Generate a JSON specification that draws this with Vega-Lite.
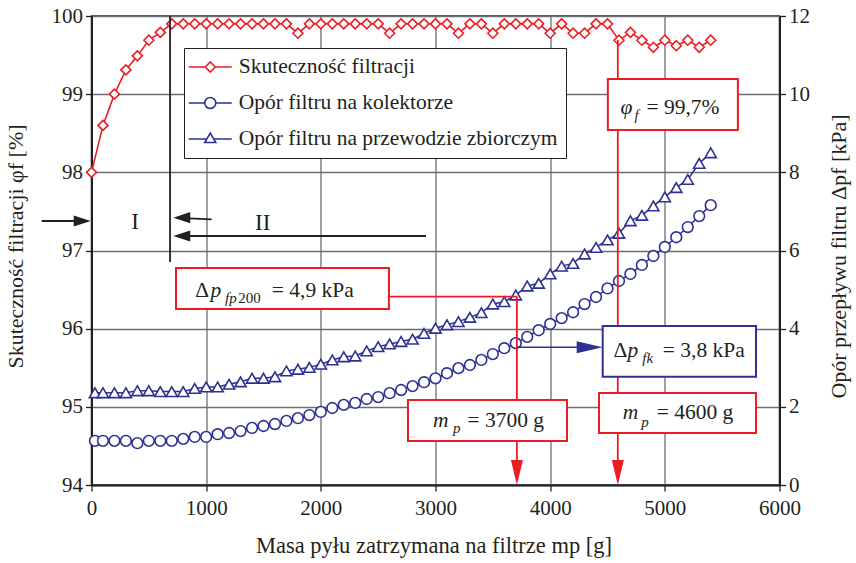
{
  "$schema": "https://vega.github.io/schema/vega-lite/v6.json",
  "width": 688,
  "height": 469,
  "autosize": {"type": "none"},
  "padding": {"left": 91.5, "top": 16, "right": 76.5, "bottom": 78},
  "background": "white",
  "config": {
    "font": "Liberation Serif",
    "view": {"stroke": "#231f20", "strokeWidth": 1.5},
    "axis": {
      "labelFont": "Liberation Serif", "labelFontSize": 21, "labelColor": "#231f20",
      "titleFont": "Liberation Serif", "titleFontSize": 22, "titleColor": "#231f20", "titleFontWeight": "normal",
      "domainColor": "#231f20", "domainWidth": 2, "tickColor": "#231f20", "tickWidth": 1.3, "tickSize": 6,
      "gridColor": "#6d6e71", "gridWidth": 1.3, "gridOpacity": 1, "labelFlush": false, "labelOverlap": false
    }
  },
  "datasets": {
    "eff": [
      {"m":0,"phi":98.0},{"m":100,"phi":98.6},{"m":200,"phi":99.0},{"m":300,"phi":99.31},{"m":400,"phi":99.49},
      {"m":500,"phi":99.69},{"m":600,"phi":99.79},{"m":700,"phi":99.9},{"m":800,"phi":99.9},{"m":900,"phi":99.9},
      {"m":1000,"phi":99.9},{"m":1100,"phi":99.9},{"m":1200,"phi":99.9},{"m":1300,"phi":99.9},{"m":1400,"phi":99.9},
      {"m":1500,"phi":99.9},{"m":1600,"phi":99.9},{"m":1700,"phi":99.9},{"m":1800,"phi":99.78},{"m":1900,"phi":99.9},
      {"m":2000,"phi":99.9},{"m":2100,"phi":99.9},{"m":2200,"phi":99.9},{"m":2300,"phi":99.9},{"m":2400,"phi":99.9},
      {"m":2500,"phi":99.9},{"m":2600,"phi":99.78},{"m":2700,"phi":99.9},{"m":2800,"phi":99.9},{"m":2900,"phi":99.9},
      {"m":3000,"phi":99.9},{"m":3100,"phi":99.9},{"m":3200,"phi":99.78},{"m":3300,"phi":99.9},{"m":3400,"phi":99.9},
      {"m":3500,"phi":99.78},{"m":3600,"phi":99.9},{"m":3700,"phi":99.9},{"m":3800,"phi":99.9},{"m":3900,"phi":99.9},
      {"m":4000,"phi":99.78},{"m":4100,"phi":99.9},{"m":4200,"phi":99.78},{"m":4300,"phi":99.78},{"m":4400,"phi":99.9},
      {"m":4500,"phi":99.9},{"m":4600,"phi":99.69},{"m":4700,"phi":99.79},{"m":4800,"phi":99.69},{"m":4900,"phi":99.6},
      {"m":5000,"phi":99.69},{"m":5100,"phi":99.62},{"m":5200,"phi":99.69},{"m":5300,"phi":99.6},{"m":5400,"phi":99.69}
    ],
    "dp": [
      {"m":30,"s":"k","dp":1.13},{"m":100,"s":"k","dp":1.13},{"m":200,"s":"k","dp":1.13},{"m":300,"s":"k","dp":1.13},
      {"m":400,"s":"k","dp":1.07},{"m":500,"s":"k","dp":1.13},{"m":600,"s":"k","dp":1.13},{"m":700,"s":"k","dp":1.13},
      {"m":800,"s":"k","dp":1.18},{"m":900,"s":"k","dp":1.23},{"m":1000,"s":"k","dp":1.23},{"m":1100,"s":"k","dp":1.30},
      {"m":1200,"s":"k","dp":1.33},{"m":1300,"s":"k","dp":1.38},{"m":1400,"s":"k","dp":1.46},{"m":1500,"s":"k","dp":1.51},
      {"m":1600,"s":"k","dp":1.56},{"m":1700,"s":"k","dp":1.64},{"m":1800,"s":"k","dp":1.71},{"m":1900,"s":"k","dp":1.79},
      {"m":2000,"s":"k","dp":1.87},{"m":2100,"s":"k","dp":1.97},{"m":2200,"s":"k","dp":2.05},{"m":2300,"s":"k","dp":2.10},
      {"m":2400,"s":"k","dp":2.20},{"m":2500,"s":"k","dp":2.25},{"m":2600,"s":"k","dp":2.35},{"m":2700,"s":"k","dp":2.43},
      {"m":2800,"s":"k","dp":2.53},{"m":2900,"s":"k","dp":2.63},{"m":3000,"s":"k","dp":2.73},{"m":3100,"s":"k","dp":2.86},
      {"m":3200,"s":"k","dp":2.99},{"m":3300,"s":"k","dp":3.07},{"m":3400,"s":"k","dp":3.20},{"m":3500,"s":"k","dp":3.35},
      {"m":3600,"s":"k","dp":3.50},{"m":3700,"s":"k","dp":3.63},{"m":3800,"s":"k","dp":3.79},{"m":3900,"s":"k","dp":3.96},
      {"m":4000,"s":"k","dp":4.12},{"m":4100,"s":"k","dp":4.27},{"m":4200,"s":"k","dp":4.42},{"m":4300,"s":"k","dp":4.63},
      {"m":4400,"s":"k","dp":4.81},{"m":4500,"s":"k","dp":5.03},{"m":4600,"s":"k","dp":5.22},{"m":4700,"s":"k","dp":5.40},
      {"m":4800,"s":"k","dp":5.63},{"m":4900,"s":"k","dp":5.86},{"m":5000,"s":"k","dp":6.09},{"m":5100,"s":"k","dp":6.34},
      {"m":5200,"s":"k","dp":6.60},{"m":5300,"s":"k","dp":6.88},{"m":5400,"s":"k","dp":7.16},
      {"m":30,"s":"z","dp":2.36},{"m":100,"s":"z","dp":2.36},{"m":200,"s":"z","dp":2.36},{"m":300,"s":"z","dp":2.36},
      {"m":400,"s":"z","dp":2.41},{"m":500,"s":"z","dp":2.41},{"m":600,"s":"z","dp":2.39},{"m":700,"s":"z","dp":2.39},
      {"m":800,"s":"z","dp":2.39},{"m":900,"s":"z","dp":2.47},{"m":1000,"s":"z","dp":2.51},{"m":1100,"s":"z","dp":2.51},
      {"m":1200,"s":"z","dp":2.58},{"m":1300,"s":"z","dp":2.64},{"m":1400,"s":"z","dp":2.73},{"m":1500,"s":"z","dp":2.73},
      {"m":1600,"s":"z","dp":2.77},{"m":1700,"s":"z","dp":2.92},{"m":1800,"s":"z","dp":2.96},{"m":1900,"s":"z","dp":3.01},
      {"m":2000,"s":"z","dp":3.09},{"m":2100,"s":"z","dp":3.20},{"m":2200,"s":"z","dp":3.28},{"m":2300,"s":"z","dp":3.30},
      {"m":2400,"s":"z","dp":3.43},{"m":2500,"s":"z","dp":3.54},{"m":2600,"s":"z","dp":3.61},{"m":2700,"s":"z","dp":3.67},
      {"m":2800,"s":"z","dp":3.73},{"m":2900,"s":"z","dp":3.88},{"m":3000,"s":"z","dp":4.01},{"m":3100,"s":"z","dp":4.10},
      {"m":3200,"s":"z","dp":4.18},{"m":3300,"s":"z","dp":4.29},{"m":3400,"s":"z","dp":4.41},{"m":3500,"s":"z","dp":4.63},
      {"m":3600,"s":"z","dp":4.69},{"m":3700,"s":"z","dp":4.86},{"m":3800,"s":"z","dp":5.09},{"m":3900,"s":"z","dp":5.16},
      {"m":4000,"s":"z","dp":5.40},{"m":4100,"s":"z","dp":5.60},{"m":4200,"s":"z","dp":5.67},{"m":4300,"s":"z","dp":5.91},
      {"m":4400,"s":"z","dp":6.08},{"m":4500,"s":"z","dp":6.27},{"m":4600,"s":"z","dp":6.44},{"m":4700,"s":"z","dp":6.76},
      {"m":4800,"s":"z","dp":6.90},{"m":4900,"s":"z","dp":7.14},{"m":5000,"s":"z","dp":7.37},{"m":5100,"s":"z","dp":7.61},
      {"m":5200,"s":"z","dp":7.82},{"m":5300,"s":"z","dp":8.23},{"m":5400,"s":"z","dp":8.50}
    ],
    "legendRows": [
      {"series":"Skuteczność filtracji"},{"series":"Opór filtru na kolektorze"},{"series":"Opór filtru na przewodzie zbiorczym"}
    ],
    "blackRules": [
      {"m":685,"m2":685,"dp":12,"dp2":5.706},
      {"m":-434,"m2":-60,"dp":6.755,"dp2":6.755},
      {"m":1048,"m2":760,"dp":6.798,"dp2":6.836},
      {"m":2917,"m2":760,"dp":6.371,"dp2":6.371}
    ],
    "redRules": [
      {"m":3710,"m2":3710,"dp":4.82,"dp2":0.3},
      {"m":2594,"m2":3710,"dp":4.82,"dp2":4.82},
      {"m":4590,"m2":4590,"dp":11.386,"dp2":0.3}
    ],
    "blueRules": [
      {"m":3713,"m2":4300,"dp":3.523,"dp2":3.523}
    ],
    "redBoxes": [
      {"m":4503,"m2":5637,"dp":10.388,"dp2":9.083},
      {"m":2760,"m2":4147,"dp":2.175,"dp2":1.126},
      {"m":4426,"m2":5795,"dp":2.354,"dp2":1.330},
      {"m":737,"m2":2594,"dp":5.552,"dp2":4.503}
    ],
    "blueBoxes": [
      {"m":4458,"m2":5795,"dp":4.068,"dp2":2.771}
    ],
    "headDown": [{"m":3710,"dp":0},{"m":4590,"dp":0}],
    "headRight": [{"m":-7,"dp":6.755}],
    "headLeft": [{"m":713,"dp":6.839},{"m":713,"dp":6.371}],
    "headBlue": [{"m":4458,"dp":3.523}],
    "txtMain": [
      {"m":5158,"dp":9.485,"t":"= 99,7%"},
      {"m":3613,"dp":1.492,"t":"= 3700 g"},
      {"m":5263,"dp":1.681,"t":"= 4600 g"},
      {"m":964,"dp":4.818,"t":"Δ"},
      {"m":1930,"dp":4.818,"t":"= 4,9 kPa"},
      {"m":4612,"dp":3.283,"t":"Δ"},
      {"m":5340,"dp":3.283,"t":"= 3,8 kPa"}
    ],
    "txtItal": [
      {"m":4666,"dp":9.485,"t":"φ"},
      {"m":3046,"dp":1.492,"t":"m"},
      {"m":4701,"dp":1.681,"t":"m"},
      {"m":1085,"dp":4.818,"t":"p"},
      {"m":4722,"dp":3.283,"t":"p"}
    ],
    "txtSubIt": [
      {"m":4753,"dp":9.339,"t":"f"},
      {"m":3185,"dp":1.323,"t":"p"},
      {"m":4827,"dp":1.492,"t":"p"},
      {"m":1215,"dp":4.657,"t":"fp"},
      {"m":4850,"dp":3.129,"t":"fk"}
    ],
    "txtSub": [
      {"m":1378,"dp":4.657,"t":"200"}
    ],
    "txtRoman": [
      {"m":379,"dp":6.729,"t":"I"},
      {"m":1493,"dp":6.704,"t":"II"}
    ]
  },
  "encoding": {
    "x": {
      "field": "m", "type": "quantitative",
      "scale": {"domain": [0, 6000], "nice": false, "zero": false},
      "axis": {
        "title": "Masa pyłu zatrzymana na filtrze mp [g]",
        "values": [0, 1000, 2000, 3000, 4000, 5000, 6000], "format": "d",
        "grid": true, "labelPadding": 6, "titleFontSize": 22.5,
        "titleX": 342, "titleY": 60, "titleBaseline": "middle", "titleAlign": "center"
      }
    }
  },
  "layer": [
    {
      "encoding": {
        "y": {
          "field": "phi", "type": "quantitative",
          "scale": {"domain": [94, 100], "nice": false, "zero": false},
          "axis": {
            "title": "Skuteczność filtracji φf [%]",
            "values": [94, 95, 96, 97, 98, 99, 100], "format": "d",
            "grid": true, "labelPadding": 3,
            "titleX": -76.5, "titleY": 230, "titleAngle": -90, "titleBaseline": "middle", "titleAlign": "center"
          }
        }
      },
      "layer": [
        {"data": {"name": "eff"}, "mark": {"type": "line", "color": "#ed1c24", "strokeWidth": 1.6}},
        {"data": {"name": "eff"}, "mark": {"type": "point", "shape": "diamond", "size": 100, "filled": true, "fill": "white", "stroke": "#ed1c24", "strokeWidth": 1.6, "opacity": 1}},
        {
          "data": {"name": "legendRows"},
          "transform": [{"filter": "datum.series == 'none'"}],
          "mark": {"type": "point", "filled": false, "opacity": 1, "size": 400, "strokeWidth": 1.6},
          "encoding": {
            "color": {
              "field": "series", "type": "nominal",
              "scale": {
                "domain": ["Skuteczność filtracji", "Opór filtru na kolektorze", "Opór filtru na przewodzie zbiorczym"],
                "range": ["#ed1c24", "#2e3192", "#2e3192"]
              },
              "legend": {
                "title": null, "orient": "none", "legendX": 92.5, "legendY": 32, "direction": "vertical",
                "padding": 8, "rowPadding": 14, "strokeColor": "#231f20", "fillColor": "white",
                "labelFont": "Liberation Serif", "labelFontSize": 21.5, "labelColor": "#231f20", "labelLimit": 500,
                "labelOffset": 17.5, "symbolOffset": 7.25, "symbolSize": 400, "symbolStrokeWidth": 1.6, "symbolOpacity": 1
              }
            },
            "shape": {
              "field": "series", "type": "nominal",
              "scale": {
                "domain": ["Skuteczność filtracji", "Opór filtru na kolektorze", "Opór filtru na przewodzie zbiorczym"],
                "range": [
                  "M-2.15,0H-0.5M0.5,0H2.15M-0.5,0L0,-0.5L0.5,0L0,0.5Z",
                  "M-2.15,0H-0.55M0.55,0H2.15M0.55,0A0.55,0.55,0,1,1,-0.55,0A0.55,0.55,0,1,1,0.55,0Z",
                  "M-2.15,0H-0.35M0.35,0H2.15M0,-0.6L0.55,0.35L-0.55,0.35Z"
                ]
              },
              "legend": {
                "title": null, "orient": "none", "legendX": 92.5, "legendY": 32, "direction": "vertical",
                "padding": 8, "rowPadding": 14, "strokeColor": "#231f20", "fillColor": "white",
                "labelFont": "Liberation Serif", "labelFontSize": 21.5, "labelColor": "#231f20", "labelLimit": 500,
                "labelOffset": 17.5, "symbolOffset": 7.25, "symbolSize": 400, "symbolStrokeWidth": 1.6, "symbolOpacity": 1
              }
            }
          }
        }
      ]
    },
    {
      "encoding": {
        "y": {
          "field": "dp", "type": "quantitative",
          "scale": {"domain": [0, 12], "nice": false, "zero": false},
          "axis": {
            "orient": "right",
            "title": "Opór przepływu filtru Δpf [kPa]",
            "values": [0, 2, 4, 6, 8, 10, 12], "format": "d",
            "grid": false, "labelPadding": 3,
            "titleX": 58.5, "titleY": 240, "titleAngle": -90, "titleBaseline": "middle", "titleAlign": "center"
          }
        }
      },
      "layer": [
        {"data": {"name": "dp"}, "mark": {"type": "line", "color": "#2e3192", "strokeWidth": 1.5}, "encoding": {"detail": {"field": "s", "type": "nominal"}}},
        {"data": {"name": "dp"}, "transform": [{"filter": "datum.s == 'k'"}], "mark": {"type": "point", "shape": "circle", "size": 115, "filled": true, "fill": "white", "stroke": "#2e3192", "strokeWidth": 1.6, "opacity": 1}},
        {"data": {"name": "dp"}, "transform": [{"filter": "datum.s == 'z'"}], "mark": {"type": "point", "shape": "triangle-up", "size": 125, "filled": true, "fill": "white", "stroke": "#2e3192", "strokeWidth": 1.6, "opacity": 1}},
        {"data": {"name": "blackRules"}, "mark": {"type": "rule", "color": "#231f20", "strokeWidth": 1.8}, "encoding": {"x2": {"field": "m2"}, "y2": {"field": "dp2"}}},
        {"data": {"name": "redRules"}, "mark": {"type": "rule", "color": "#ed1c24", "strokeWidth": 1.8}, "encoding": {"x2": {"field": "m2"}, "y2": {"field": "dp2"}}},
        {"data": {"name": "blueRules"}, "mark": {"type": "rule", "color": "#2e3192", "strokeWidth": 1.6}, "encoding": {"x2": {"field": "m2"}, "y2": {"field": "dp2"}}},
        {"data": {"name": "redBoxes"}, "mark": {"type": "rect", "fill": "white", "stroke": "#ed1c24", "strokeWidth": 2}, "encoding": {"x2": {"field": "m2"}, "y2": {"field": "dp2"}}},
        {"data": {"name": "blueBoxes"}, "mark": {"type": "rect", "fill": "white", "stroke": "#2e3192", "strokeWidth": 2}, "encoding": {"x2": {"field": "m2"}, "y2": {"field": "dp2"}}},
        {"data": {"name": "headDown"}, "mark": {"type": "point", "shape": "M0,0L-0.24,-1L0.24,-1Z", "size": 2500, "filled": true, "color": "#ed1c24", "opacity": 1, "strokeWidth": 0}},
        {"data": {"name": "headRight"}, "mark": {"type": "point", "shape": "M0,0L-1,-0.33L-1,0.33Z", "size": 1156, "filled": true, "color": "#231f20", "opacity": 1, "strokeWidth": 0}},
        {"data": {"name": "headLeft"}, "mark": {"type": "point", "shape": "M0,0L1,-0.33L1,0.33Z", "size": 1156, "filled": true, "color": "#231f20", "opacity": 1, "strokeWidth": 0}},
        {"data": {"name": "headBlue"}, "mark": {"type": "point", "shape": "M0,0L-1,-0.23L-1,0.23Z", "size": 2704, "filled": true, "color": "#2e3192", "opacity": 1, "strokeWidth": 0}},
        {"data": {"name": "txtMain"}, "mark": {"type": "text", "font": "Liberation Serif", "fontSize": 21.5, "align": "center", "baseline": "alphabetic", "color": "#231f20"}, "encoding": {"text": {"field": "t"}}},
        {"data": {"name": "txtItal"}, "mark": {"type": "text", "font": "Liberation Serif", "fontSize": 21.5, "fontStyle": "italic", "align": "center", "baseline": "alphabetic", "color": "#231f20"}, "encoding": {"text": {"field": "t"}}},
        {"data": {"name": "txtSubIt"}, "mark": {"type": "text", "font": "Liberation Serif", "fontSize": 15, "fontStyle": "italic", "align": "center", "baseline": "alphabetic", "color": "#231f20"}, "encoding": {"text": {"field": "t"}}},
        {"data": {"name": "txtSub"}, "mark": {"type": "text", "font": "Liberation Serif", "fontSize": 15, "align": "center", "baseline": "alphabetic", "color": "#231f20"}, "encoding": {"text": {"field": "t"}}},
        {"data": {"name": "txtRoman"}, "mark": {"type": "text", "font": "Liberation Serif", "fontSize": 23, "align": "center", "baseline": "middle", "color": "#231f20"}, "encoding": {"text": {"field": "t"}}}
      ]
    }
  ],
  "resolve": {"scale": {"y": "independent"}}
}
